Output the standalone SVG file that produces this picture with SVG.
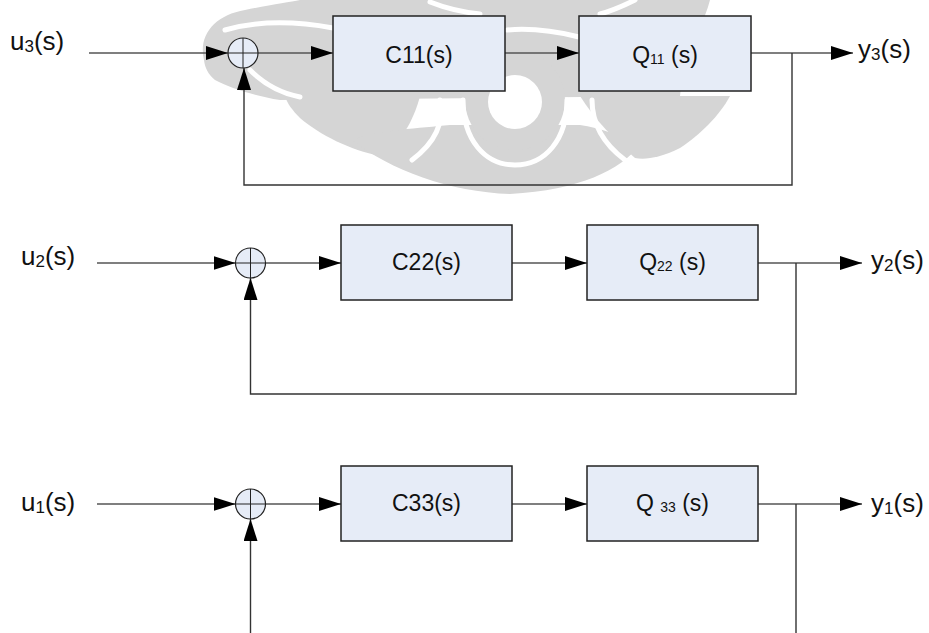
<svg xmlns="http://www.w3.org/2000/svg" width="929" height="633" viewBox="0 0 929 633">
<defs>
<style>
.wm{fill:#d5d5d5}
.wmw{fill:none;stroke:#fff;stroke-width:5;stroke-linecap:round}
.box{fill:#e6ecf7;stroke:#222;stroke-width:1.5}
.sum{fill:#e6ecf7;stroke:#222;stroke-width:1.2}
.x{stroke:#222;stroke-width:1}
.ln{fill:none;stroke:#555;stroke-width:1.4}
.fb{fill:none;stroke:#333;stroke-width:1.4}
.arr{marker-end:url(#ah)}
text{font-family:"Liberation Sans",Arial,sans-serif;fill:#111}
.lab{font-size:26px}
.bt{font-size:23px;text-anchor:middle}
.sub{font-size:17px}
.bsub{font-size:14px}
</style>
<marker id="ah" markerUnits="userSpaceOnUse" markerWidth="22" markerHeight="14" refX="22" refY="7" orient="auto"><path d="M0,0 L22,7 L0,14 Z" fill="#000"/></marker>
</defs>
<rect width="929" height="633" fill="#fff"/>
<g id="watermark">
<path class="wm" d="M204,60 C198,35 215,15 245,10 C270,5 290,2 300,0 L710,0 C705,20 695,35 685,50 L680,96 L280,100 C255,96 230,88 215,80 C208,74 205,68 204,60 Z"/>
<path class="wm" d="M285,96 L420,96 C415,115 405,140 380,156 C350,150 320,135 300,118 C292,110 287,103 285,96 Z"/>
<path class="wm" d="M352,140 C380,130 420,128 450,125 L580,125 C600,128 620,135 640,145 C620,170 580,190 510,194 C450,192 390,170 352,140 Z"/>
<circle class="wm" cx="515" cy="100" r="50"/>
<path class="wm" d="M580,96 L730,96 C720,115 700,135 680,148 C660,158 645,160 635,158 C615,140 595,120 580,96 Z"/>
<circle cx="515" cy="102" r="27" fill="#fff"/>
<path class="wmw" d="M463,100 C463,140 485,165 515,165 C545,165 567,140 567,100"/>
<path class="wmw" d="M440,100 C445,125 432,145 412,160"/>
<path class="wmw" d="M592,100 C592,125 605,145 625,160"/>
<path class="wmw" d="M225,30 C260,20 300,22 333,28"/>
<path class="wmw" d="M507,30 C530,28 555,31 579,37"/>
<path class="wmw" d="M250,70 C265,85 280,93 300,97"/>
<path class="wmw" d="M430,2 C445,8 460,12 480,14"/>
<path class="wmw" d="M600,14 C615,10 625,5 635,0"/>
</g>
<g id="connectors">
<path class="ln arr" d="M89,53 H228"/>
<path class="ln arr" d="M258,53 H333"/>
<path class="ln arr" d="M505,53 H579"/>
<path class="ln arr" d="M751,53 H853"/>
<path class="fb arr" d="M792,53 V185 H244 V68"/>
<path class="ln arr" d="M97,263 H235.5"/>
<path class="ln arr" d="M265.5,263 H341"/>
<path class="ln arr" d="M512,263 H587"/>
<path class="ln arr" d="M758,263 H862"/>
<path class="fb arr" d="M796,263 V394 H250.5 V278"/>
<path class="ln arr" d="M97,504 H235.5"/>
<path class="ln arr" d="M265.5,504 H341"/>
<path class="ln arr" d="M512,504 H587"/>
<path class="ln arr" d="M758,504 H862"/>
<path class="fb" d="M796,504 V633"/>
<path class="fb arr" d="M250.5,633 V519"/>
</g>
<g id="u3"><text class="lab" x="10" y="50">u<tspan class="sub" dy="2">3</tspan><tspan dy="-2">(s)</tspan></text></g>
<g id="sum1"><circle class="sum" cx="243" cy="53" r="15"/><path class="x" d="M228,53 H258 M243,38 V68"/></g>
<g id="C11"><rect class="box" x="333" y="16" width="172" height="75"/><text class="bt" x="419" y="62.5">C11(s)</text></g>
<g id="Q11"><rect class="box" x="579" y="16" width="172" height="75"/><text class="bt" x="665" y="62.5">Q<tspan class="bsub" dy="1">11</tspan><tspan dy="-1"> (s)</tspan></text></g>
<g id="y3"><text class="lab" x="858" y="58">y<tspan class="sub" dy="2">3</tspan><tspan dy="-2">(s)</tspan></text></g>
<g id="u2"><text class="lab" x="21" y="264.5">u<tspan class="sub" dy="2">2</tspan><tspan dy="-2">(s)</tspan></text></g>
<g id="sum2"><circle class="sum" cx="250.5" cy="263" r="15"/><path class="x" d="M235.5,263 H265.5 M250.5,248 V278"/></g>
<g id="C22"><rect class="box" x="341" y="225" width="171" height="75"/><text class="bt" x="426.5" y="270">C22(s)</text></g>
<g id="Q22"><rect class="box" x="587" y="225" width="171" height="75"/><text class="bt" x="672.5" y="270">Q<tspan class="bsub" dy="1">22</tspan><tspan dy="-1"> (s)</tspan></text></g>
<g id="y2"><text class="lab" x="871" y="269">y<tspan class="sub" dy="2">2</tspan><tspan dy="-2">(s)</tspan></text></g>
<g id="u1"><text class="lab" x="21" y="510.5">u<tspan class="sub" dy="2">1</tspan><tspan dy="-2">(s)</tspan></text></g>
<g id="sum3"><circle class="sum" cx="250.5" cy="504" r="15"/><path class="x" d="M235.5,504 H265.5 M250.5,489 V519"/></g>
<g id="C33"><rect class="box" x="341" y="466" width="171" height="75"/><text class="bt" x="426.5" y="511">C33(s)</text></g>
<g id="Q33"><rect class="box" x="587" y="466" width="171" height="75"/><text class="bt" x="672.5" y="511">Q <tspan class="bsub" dy="1">33</tspan><tspan dy="-1"> (s)</tspan></text></g>
<g id="y1"><text class="lab" x="871" y="512">y<tspan class="sub" dy="2">1</tspan><tspan dy="-2">(s)</tspan></text></g>
</svg>
